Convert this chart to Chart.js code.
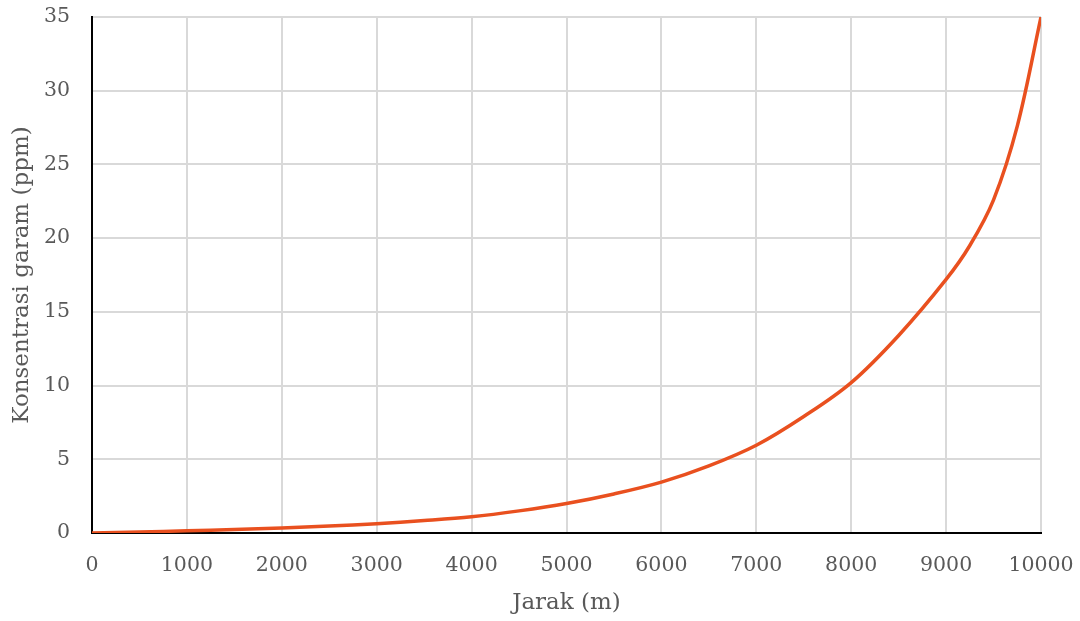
<!DOCTYPE html>
<html>
<head>
<meta charset="utf-8">
<script src="https://cdn.jsdelivr.net/npm/chart.js@4/dist/chart.umd.min.js"></script>
<style>
  html, body { margin: 0; padding: 0; background: #ffffff; }
  #wrap { width: 1080px; height: 621px; }
</style>
</head>
<body>
<div id="wrap"><canvas id="c" width="1080" height="621"></canvas></div>
<script>
const distances = [0, 500, 1000, 1500, 2000, 2500, 3000, 3500, 4000, 4500, 5000, 5500, 6000, 6500, 7000, 7500, 8000, 8500, 9000, 9250, 9500, 9750, 10000];
const concentrations = [0, 0.07, 0.15, 0.24, 0.34, 0.47, 0.63, 0.84, 1.1, 1.5, 2.0, 2.65, 3.45, 4.55, 5.95, 7.9, 10.2, 13.4, 17.2, 19.5, 22.6, 27.6, 35];
const xTitle = 'Jarak (m)';
const yTitle = 'Konsentrasi garam (ppm)';

const FONT = 'DejaVu Serif';
const TICK_COLOR = '#595959';

const points = distances.map((d, i) => ({ x: d, y: concentrations[i] }));

function zeroPad(s) {
  s.paddingTop = 0; s.paddingBottom = 0; s.paddingLeft = 0; s.paddingRight = 0;
}

new Chart(document.getElementById('c'), {
  type: 'line',
  data: {
    datasets: [{
      data: points,
      borderColor: '#E9501F',
      borderWidth: 3.5,
      pointRadius: 0,
      fill: false,
      tension: 0.35
    }]
  },
  options: {
    responsive: false,
    animation: false,
    devicePixelRatio: 1,
    layout: { padding: { top: 17, right: 39, bottom: 0, left: 0 } },
    plugins: { legend: { display: false }, tooltip: { enabled: false } },
    scales: {
      x: {
        type: 'linear',
        min: 0,
        max: 10000,
        afterFit: (s) => { s.height = 88; zeroPad(s); },
        ticks: {
          stepSize: 1000,
          color: TICK_COLOR,
          font: { family: FONT, size: 20.5 },
          padding: 20,
          maxRotation: 0,
          callback: (v) => String(v)
        },
        grid: { color: '#d9d9d9', lineWidth: 2, drawTicks: false },
        border: { color: '#000000', width: 2 },
        title: {
          display: true,
          text: xTitle,
          color: TICK_COLOR,
          font: { family: FONT, size: 23 },
          padding: { top: 0, bottom: 4 }
        }
      },
      y: {
        min: 0,
        max: 35,
        afterFit: (s) => { s.width = 92; zeroPad(s); },
        ticks: {
          stepSize: 5,
          color: TICK_COLOR,
          font: { family: FONT, size: 20.5 },
          padding: 22
        },
        grid: { color: '#d9d9d9', lineWidth: 2, drawTicks: false },
        border: { color: '#000000', width: 2 },
        title: {
          display: true,
          text: yTitle,
          color: TICK_COLOR,
          font: { family: FONT, size: 23 },
          padding: { top: 8, bottom: 0 }
        }
      }
    }
  }
});
</script>
</body>
</html>
